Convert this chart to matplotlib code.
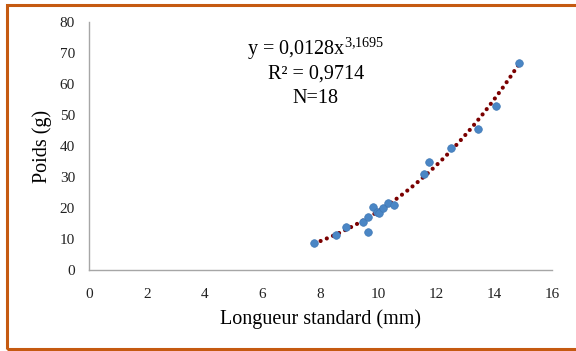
import numpy as np
import matplotlib.pyplot as plt
from matplotlib.patches import Rectangle

# Données
longueur = [7.79, 8.53, 8.90, 9.46, 9.66, 9.65, 9.81, 9.95, 10.03, 10.17,
            10.32, 10.54, 11.58, 11.75, 12.53, 13.44, 14.06, 14.87]
poids = [8.8, 11.3, 13.8, 15.6, 12.2, 17.0, 20.2, 18.8, 18.5, 19.9,
         21.5, 21.0, 30.9, 34.7, 39.5, 45.4, 52.9, 66.9]

# Coefficients de la courbe de tendance (puissance)
coef_a = 0.0128
coef_b = 3.1695

plt.rcParams['font.family'] = ['Liberation Serif', 'DejaVu Serif']
plt.rcParams['mathtext.fontset'] = 'custom'
plt.rcParams['mathtext.rm'] = 'Liberation Serif'
plt.rcParams['mathtext.it'] = 'Liberation Serif:italic'

fig = plt.figure(figsize=(5.76, 3.51), dpi=100)
ax = fig.add_axes([0.1545, 0.2308, 0.8035, 0.7065])

# Cadre orange autour de la figure
fig.patches.append(Rectangle((0.012, 0.006), 1.0, 0.98, transform=fig.transFigure,
                             fill=False, edgecolor='#C55A11', linewidth=2.2))

ax.scatter(longueur, poids, s=30, color='#4A86C5', edgecolor='#3F78B5',
           linewidth=0.5, zorder=3)

xs = np.linspace(min(longueur), max(longueur), 300)
ax.plot(xs, coef_a * xs ** coef_b, color='#7B0000', linestyle=(0, (0.01, 1.6)),
        linewidth=3.0, dash_capstyle='round', zorder=2)

ax.set_xlim(0, 16)
ax.set_ylim(0, 80)
ax.set_xticks(range(0, 17, 2))
ax.set_yticks(range(0, 81, 10))
ax.tick_params(length=0, labelsize=11, colors='#222222')
ax.tick_params(axis='x', pad=13)
ax.tick_params(axis='y', pad=10)

for s in ['top', 'right']:
    ax.spines[s].set_visible(False)
for s in ['left', 'bottom']:
    ax.spines[s].set_color('#A6A6A6')
    ax.spines[s].set_linewidth(1.0)

ax.set_xlabel('Longueur standard (mm)', fontsize=14.5, labelpad=6)
ax.set_ylabel('Poids (g)', fontsize=14.5, labelpad=6)

ax.text(0.49, 0.89, r'y = 0,0128x$^{\mathrm{3{,}1695}}$', transform=ax.transAxes,
        ha='center', va='center', fontsize=14.5)
ax.text(0.49, 0.79, 'R² = 0,9714', transform=ax.transAxes,
        ha='center', va='center', fontsize=14.5)
ax.text(0.49, 0.69, 'N=18', transform=ax.transAxes,
        ha='center', va='center', fontsize=14.5)

fig.savefig('out.png', dpi=100)
